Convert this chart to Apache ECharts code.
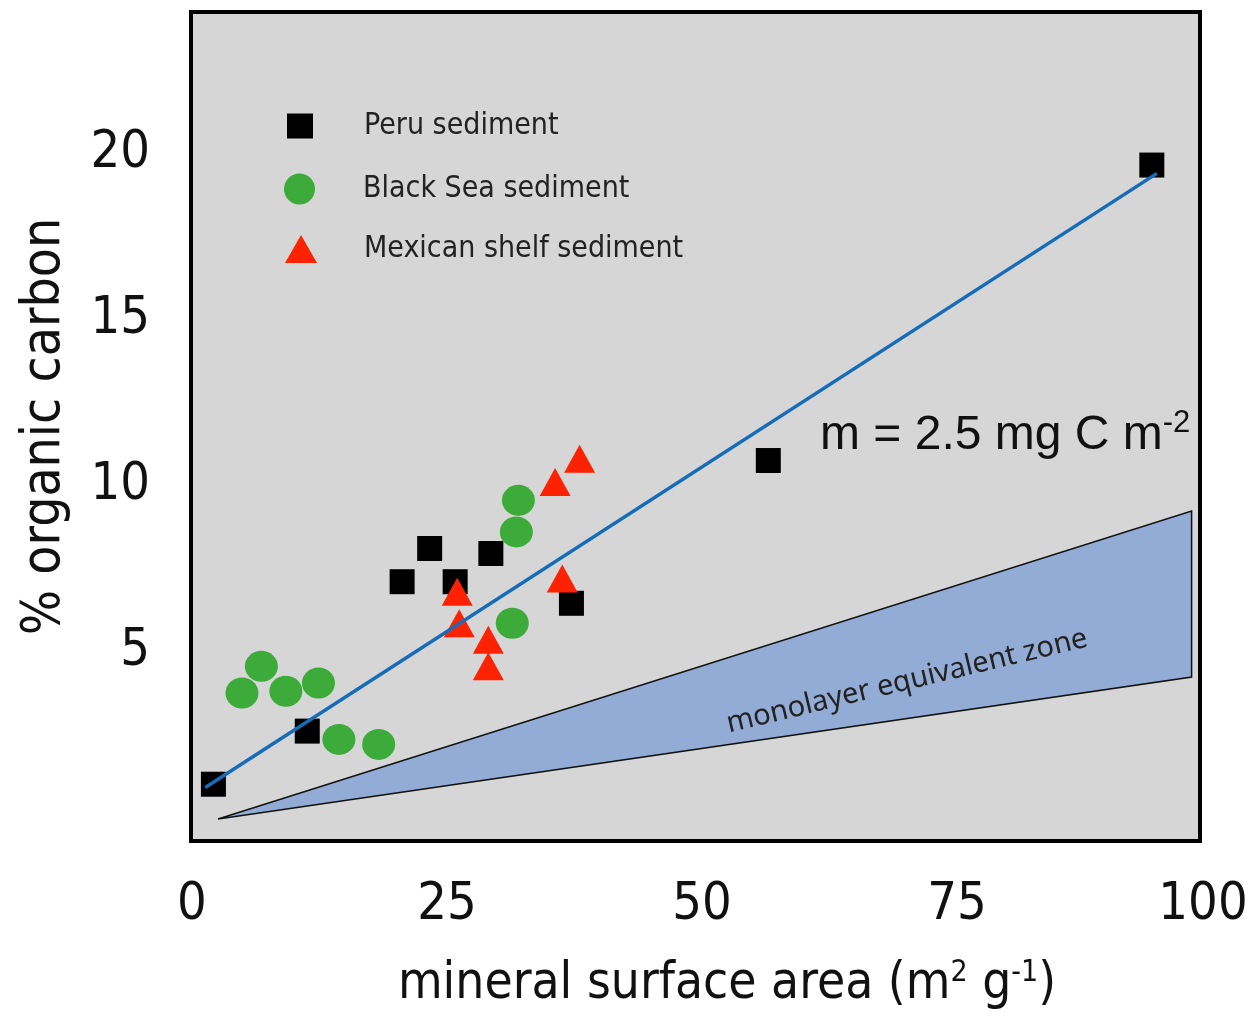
<!DOCTYPE html>
<html>
<head>
<meta charset="utf-8">
<script src="https://cdn.jsdelivr.net/npm/echarts@6/dist/echarts.min.js"></script>
<style>
  html, body { margin: 0; padding: 0; background: #fff; }
  #chart { width: 1251px; height: 1018px; }
</style>
</head>
<body>
<div id="chart"></div>
<script>
// data
const peruX = [2.1, 11.3, 20.6, 23.3, 25.8, 29.3, 37.2, 56.5, 94.1];
const peruY = [1.0, 2.6, 7.1, 8.1, 7.1, 7.95, 6.45, 10.75, 19.65];

const blackSeaX = [4.9, 6.8, 9.2, 12.4, 14.4, 18.3, 31.4, 31.8, 32.0];
const blackSeaY = [3.75, 4.55, 3.8, 4.05, 2.35, 2.2, 5.85, 8.6, 9.55];

const mexicoX = [26.0, 26.2, 29.05, 29.05, 36.3, 35.6, 38.0];
const mexicoY = [6.8, 5.85, 5.35, 4.55, 7.2, 10.1, 10.8];

// fitted line (m = 2.5 mg C m-2)
const fitX = [1.3, 94.6];
const fitY = [0.9, 19.4];

// monolayer equivalent zone
const bandX = [2.55, 98.0, 98.0];
const bandY = [-0.05, 9.23, 4.23];

const xTicks = [0, 25, 50, 75, 100];
const yTicks = [5, 10, 15, 20];

const NARROW = '"DejaVu Sans Condensed", "DejaVu Sans", sans-serif';
const ARIAL = '"Liberation Sans", Arial, sans-serif';

const pairs = (xs, ys) => xs.map((x, i) => [x, ys[i]]);

const chart = echarts.init(document.getElementById('chart'));

const legendText = (pad) => ({
  fontFamily: NARROW,
  fontSize: 30,
  lineHeight: 36,
  color: '#222',
  padding: [0, 0, 0, pad]
});

const option = {
  animation: false,
  backgroundColor: '#fff',
  grid: { left: 192, right: 39, top: 12, bottom: 177, outerBoundsMode: 'none' },
  xAxis: {
    type: 'value',
    min: 0,
    max: 100,
    interval: 25,
    axisLine: { show: false, onZero: false },
    axisTick: { show: false },
    splitLine: { show: false },
    axisLabel: {
      margin: 38,
      fontFamily: NARROW,
      fontSize: 52,
      color: '#111',
      // last label sits a little inside the page edge
      formatter: v => v === xTicks[xTicks.length - 1] ? '{r|' + v + '}' : String(v),
      rich: {
        r: { fontFamily: NARROW, fontSize: 52, color: '#111', padding: [0, 18, 0, 0] }
      }
    },
    name: '{a|mineral surface area (m}{s|2}{a| g}{s|-1}{a|)}',
    nameLocation: 'middle',
    nameGap: 117,
    nameTextStyle: {
      padding: [0, 0, 0, 50],
      rich: {
        a: { fontFamily: NARROW, fontSize: 51, lineHeight: 54, color: '#111' },
        s: { fontFamily: NARROW, fontSize: 30, lineHeight: 30, color: '#111', verticalAlign: 'top' }
      }
    }
  },
  yAxis: {
    type: 'value',
    min: -0.71,
    max: 24.26,
    axisLine: { show: false },
    axisTick: { show: false },
    splitLine: { show: false },
    axisLabel: {
      customValues: yTicks,
      margin: 42,
      fontFamily: NARROW,
      fontSize: 52,
      color: '#111'
    },
    name: '% organic carbon',
    nameLocation: 'middle',
    nameGap: 120,
    nameTextStyle: { fontFamily: NARROW, fontSize: 53, color: '#111' }
  },
  legend: [
    { data: ['Peru sediment'], left: 287, top: 108, padding: 0, itemWidth: 26, itemHeight: 25,
      selectedMode: false, textStyle: legendText(46) },
    { data: ['Black Sea sediment'], left: 284, top: 171, padding: 0, itemWidth: 33, itemHeight: 31,
      selectedMode: false, textStyle: legendText(42) },
    { data: ['Mexican shelf sediment'], left: 285, top: 231, padding: 0, itemWidth: 32, itemHeight: 28,
      selectedMode: false, textStyle: legendText(42) }
  ],
  graphic: [
    {
      type: 'rect', z: 0, silent: true,
      shape: { x: 191, y: 12, width: 1009, height: 829 },
      style: { fill: '#d6d6d6', stroke: '#000', lineWidth: 4 }
    },
    {
      type: 'text', z: 10, x: 820, y: 408,
      style: {
        text: '{a|m = 2.5 mg C m}{s|-2}',
        verticalAlign: 'top',
        rich: {
          a: { fontFamily: ARIAL, fontSize: 48, lineHeight: 56, fill: '#111' },
          s: { fontFamily: ARIAL, fontSize: 31, lineHeight: 31, fill: '#111', verticalAlign: 'top' }
        }
      }
    }
  ],
  series: [
    {
      name: 'monolayer',
      type: 'custom',
      z: 1,
      silent: true,
      data: pairs(bandX, bandY),
      renderItem: (params, api) => {
        if (params.dataIndex !== 0) return;
        const pts = bandX.map((x, i) => api.coord([x, bandY[i]]));
        const lab = api.coord([70.1, 4.1]);
        return {
          type: 'group',
          children: [
            { type: 'polygon', shape: { points: pts },
              style: { fill: '#93acd6', stroke: '#111', lineWidth: 1.5 } },
            { type: 'text', x: lab[0], y: lab[1], rotation: 13.5 * Math.PI / 180,
              style: { text: 'monolayer equivalent zone', fontFamily: '"Noto Sans", "Open Sans", sans-serif',
                       fontSize: 29, fill: '#222', align: 'center', verticalAlign: 'middle' } }
          ]
        };
      }
    },
    {
      name: 'Peru sediment',
      type: 'scatter',
      symbol: 'rect',
      symbolSize: [25, 25],
      itemStyle: { color: '#000', opacity: 1 },
      data: pairs(peruX, peruY)
    },
    {
      name: 'Black Sea sediment',
      type: 'scatter',
      symbol: 'circle',
      symbolSize: [33, 31],
      itemStyle: { color: '#3dab3a', opacity: 1 },
      data: pairs(blackSeaX, blackSeaY)
    },
    {
      name: 'Mexican shelf sediment',
      type: 'scatter',
      symbol: 'triangle',
      symbolSize: [31, 28],
      itemStyle: { color: '#ff2200', opacity: 1 },
      data: pairs(mexicoX, mexicoY)
    },
    {
      name: 'fit',
      type: 'line',
      symbol: 'none',
      silent: true,
      lineStyle: { color: '#166cb8', width: 3.5 },
      data: pairs(fitX, fitY)
    }
  ]
};

chart.setOption(option);
</script>
</body>
</html>
